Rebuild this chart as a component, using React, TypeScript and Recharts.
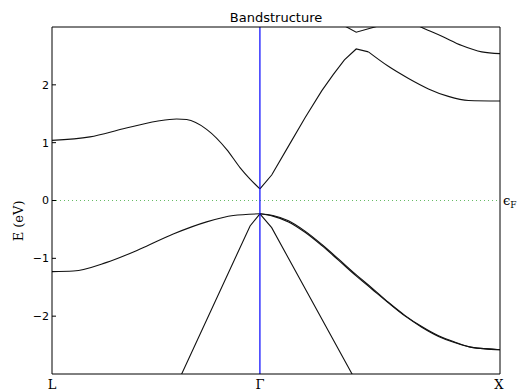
import { LineChart, Line, XAxis, YAxis, ReferenceLine } from 'recharts';

// k-path positions (L -> Gamma -> X), in units of 2pi/a
const kTicks = [0, 0.866, 1.866];
const kLabels = ['L', 'Γ', 'X'];
const eTicks = [-2, -1, 0, 1, 2];

// bands as [k, E(eV)] pairs
const condLG = [
  [0, 1.04], [0.158, 1.1], [0.297, 1.24], [0.436, 1.37], [0.519, 1.41], [0.561, 1.4],
  [0.644, 1.23], [0.728, 0.88], [0.783, 0.57], [0.825, 0.37], [0.866, 0.2],
];
const condGX1 = [
  [0.866, 0.2], [0.915, 0.44], [0.985, 0.94], [1.054, 1.43], [1.124, 1.9], [1.172, 2.18],
  [1.218, 2.43], [1.267, 2.62], [1.318, 2.57],
];
const condGX2 = [
  [1.318, 2.57], [1.401, 2.32], [1.485, 2.11], [1.568, 1.93], [1.651, 1.8], [1.735, 1.73],
  [1.866, 1.72],
];
const upperGX = [[1.5, 3.07], [1.547, 2.98], [1.624, 2.84], [1.707, 2.68], [1.79, 2.57], [1.866, 2.54]];
const topGX = [[1.218, 3.02], [1.267, 2.91], [1.318, 2.97], [1.37, 3.03]];
const valLG = [
  [0, -1.23], [0.089, -1.22], [0.228, -1.07], [0.367, -0.84], [0.505, -0.58], [0.644, -0.37],
  [0.755, -0.26], [0.866, -0.23],
];
const valGXa = [
  [0.866, -0.23], [0.92, -0.26], [0.985, -0.35], [1.054, -0.53], [1.124, -0.76], [1.193, -1.01],
  [1.263, -1.27], [1.332, -1.51], [1.401, -1.76], [1.471, -1.99], [1.54, -2.18], [1.61, -2.34],
  [1.679, -2.45], [1.749, -2.54], [1.866, -2.58],
];
const valGXb = [
  [0.866, -0.23], [0.92, -0.27], [0.985, -0.37], [1.054, -0.55], [1.124, -0.78], [1.193, -1.03],
  [1.263, -1.29], [1.332, -1.53], [1.401, -1.77], [1.471, -2.0], [1.54, -2.19], [1.61, -2.35],
  [1.679, -2.46], [1.749, -2.54], [1.866, -2.58],
];
const steepLG = [[0.5, -3.36], [0.825, -0.44], [0.866, -0.23]];
const steepGX = [[0.866, -0.23], [0.915, -0.47], [1.3, -3.38]];

const toRows = (pts: number[][]) => pts.map(([k, e]) => ({ k, e }));

const bands: { pts: number[][]; type: 'monotone' | 'linear' }[] = [
  { pts: condLG, type: 'monotone' },
  { pts: condGX1, type: 'linear' },
  { pts: condGX2, type: 'monotone' },
  { pts: upperGX, type: 'monotone' },
  { pts: topGX, type: 'linear' },
  { pts: valLG, type: 'monotone' },
  { pts: valGXa, type: 'monotone' },
  { pts: valGXb, type: 'monotone' },
  { pts: steepLG, type: 'linear' },
  { pts: steepGX, type: 'linear' },
];

const fmt = (v: number) => (v < 0 ? `−${Math.abs(v)}` : `${v}`);

const LeftTick = ({ x, y, payload }: any) => (
  <g>
    <line x1={x} x2={x + 4} y1={y} y2={y} stroke="#000" />
    <text x={x - 3} y={y} dy="0.36em" textAnchor="end" fontSize={11} fontFamily="DejaVu Sans" fill="#000">
      {fmt(payload.value)}
    </text>
  </g>
);

const RightTick = ({ x, y }: any) => <line x1={x - 4} x2={x} y1={y} y2={y} stroke="#000" />;

const BottomTick = ({ x, y, payload }: any) => (
  <text x={x} y={y + 15} textAnchor="middle" fontSize={13} fontFamily="DejaVu Serif" fill="#000">
    {kLabels[kTicks.indexOf(payload.value)]}
  </text>
);

const FermiLabel = ({ viewBox }: any) => (
  <text x={viewBox.x + viewBox.width + 3} y={viewBox.y + 4} fontSize={13} fontFamily="DejaVu Serif" fill="#000">
    ϵ<tspan fontSize={9} dy={3}>F</tspan>
  </text>
);

const App = () => {
  return (
    <div style={{ position: 'absolute', left: 0, top: 0 }}>
      <LineChart width={517} height={392} margin={{ top: 26, right: 16, bottom: 17, left: 51 }}>
        <XAxis
          type="number"
          dataKey="k"
          domain={[0, 1.866]}
          allowDataOverflow
          ticks={kTicks}
          height={1}
          tickSize={0}
          tickMargin={0}
          tickLine={false}
          tick={BottomTick}
          axisLine={{ stroke: '#000' }}
        />
        <XAxis
          xAxisId="top"
          orientation="top"
          type="number"
          dataKey="k"
          domain={[0, 1.866]}
          height={1}
          tick={false}
          tickLine={false}
          axisLine={{ stroke: '#000' }}
          label={{ value: 'Bandstructure', position: 'top', offset: 4, fontSize: 13, fontFamily: 'DejaVu Sans', fill: '#000' }}
        />
        <YAxis
          type="number"
          domain={[-3, 3]}
          allowDataOverflow
          ticks={eTicks}
          width={1}
          tickSize={0}
          tickMargin={0}
          tickLine={false}
          tick={LeftTick}
          axisLine={{ stroke: '#000' }}
          label={{ value: 'E (eV)', angle: -90, position: 'left', offset: 33, fontSize: 13, fontFamily: 'DejaVu Serif', fill: '#000' }}
        />
        <YAxis
          yAxisId="right"
          orientation="right"
          type="number"
          domain={[-3, 3]}
          ticks={eTicks}
          width={1}
          tickSize={0}
          tickMargin={0}
          tickLine={false}
          tick={RightTick}
          axisLine={{ stroke: '#000' }}
        />
        <ReferenceLine y={0} stroke="#66bb66" strokeDasharray="1 3" label={FermiLabel} />
        {bands.map((b, i) => (
          <Line
            key={i}
            data={toRows(b.pts)}
            dataKey="e"
            type={b.type}
            stroke="#111"
            strokeWidth={1.1}
            dot={false}
            activeDot={false}
            isAnimationActive={false}
          />
        ))}
        <ReferenceLine x={0.866} stroke="#0000ff" strokeWidth={1.2} />
      </LineChart>
    </div>
  );
};

export default App;
